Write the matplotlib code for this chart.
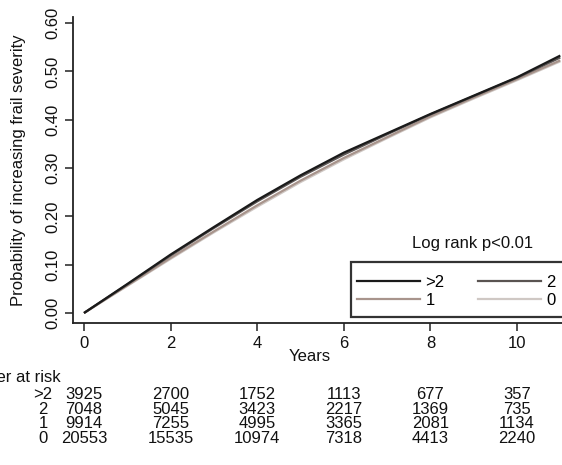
import matplotlib
matplotlib.use("Agg")
import matplotlib.pyplot as plt
from matplotlib.lines import Line2D
from matplotlib.patches import Rectangle

plt.rcParams['font.family'] = ['Liberation Sans', 'DejaVu Sans']

# ---- data ----
years = [0, 1, 2, 3, 4, 5, 6, 7, 8, 9, 10, 11]
cum_gt2 = [0, 0.060, 0.121, 0.178, 0.234, 0.285, 0.332, 0.372, 0.412, 0.450, 0.488, 0.533]
cum_2 = [0, 0.059, 0.119, 0.176, 0.231, 0.282, 0.328, 0.370, 0.411, 0.449, 0.487, 0.529]
cum_1 = [0, 0.057, 0.114, 0.169, 0.223, 0.274, 0.321, 0.364, 0.407, 0.446, 0.484, 0.523]
cum_0 = [0, 0.056, 0.112, 0.167, 0.220, 0.271, 0.318, 0.362, 0.405, 0.444, 0.482, 0.521]

groups = [">2", "2", "1", "0"]
risk_times = [0, 2, 4, 6, 8, 10]
risk_gt2 = [3925, 2700, 1752, 1113, 677, 357]
risk_2 = [7048, 5045, 3423, 2217, 1369, 735]
risk_1 = [9914, 7255, 4995, 3365, 2081, 1134]
risk_0 = [20553, 15535, 10974, 7318, 4413, 2240]

yticks = [0.0, 0.1, 0.2, 0.3, 0.4, 0.5, 0.6]
xticks = [0, 2, 4, 6, 8, 10]

# ---- figure ----
W, H = 562, 465
fig = plt.figure(figsize=(W / 100, H / 100), dpi=100)

def fx(px):
    return px / W

def fy(py):
    return 1 - py / H

FS = 12
ax_l, ax_r, ax_t, ax_b = 73, 600, 17, 323
ax = fig.add_axes([fx(ax_l), fy(ax_b), fx(ax_r - ax_l), (ax_b - ax_t) / H])

x0px, pxyr = 84, 43.3
y0px, pxunit = 313, 483
ax.set_xlim(-(x0px - ax_l) / pxyr, (ax_r - x0px) / pxyr)
ax.set_ylim(-(ax_b - y0px) / pxunit, (y0px - ax_t) / pxunit)

colors = {">2": "#1a1a1a", "2": "#5a5452", "1": "#a8948c", "0": "#cfc8c4"}
series = {">2": cum_gt2, "2": cum_2, "1": cum_1, "0": cum_0}
for g in ["0", "1", "2", ">2"]:
    ax.plot(years, series[g], color=colors[g], lw=1.6, solid_capstyle='butt')

for s in ["top", "right"]:
    ax.spines[s].set_visible(False)
for s in ["left", "bottom"]:
    ax.spines[s].set_color("#222222")
    ax.spines[s].set_linewidth(1.3)

ax.set_xticks(xticks)
ax.set_xticklabels([str(t) for t in xticks])
ax.set_yticks(yticks)
ax.set_yticklabels([f"{v:.2f}" for v in yticks], rotation=90, va='center')
ax.tick_params(axis='both', direction='out', length=6, width=1.1, color="#222222",
               labelsize=FS, labelcolor="#111111", pad=3)

fig.text(fx(19), fy(170), "Probability of increasing frail severity", rotation=90,
         ha='center', va='center', fontsize=FS, color="#111111")
fig.text(fx(310), fy(356), "Years", ha='center', va='center', fontsize=FS, color="#111111")

# legend box (extends past the right edge, as in the cropped original)
box = Rectangle((fx(351), fy(317)), fx(620 - 351), (317 - 262) / H,
                transform=fig.transFigure, facecolor='white', edgecolor='#333333',
                linewidth=1.6, zorder=5, clip_on=False)
ax.add_patch(box)

# legend entries (row-wise order: >2, 2 / 1, 0)
order = [">2", "1", "2", "0"]
handles = [Line2D([], [], color=colors[g], lw=1.6) for g in order]
leg = ax.legend(handles, order, ncol=2, loc='upper left',
                bbox_to_anchor=(fx(357), fy(275)), bbox_transform=fig.transFigure,
                borderaxespad=0, fontsize=FS, handlelength=3.8, handletextpad=0.3,
                columnspacing=2.0, frameon=False, borderpad=0,
                labelspacing=0.15)
leg.set_zorder(6)
fig.text(fx(473), fy(243), "Log rank p<0.01", ha='center', va='center', fontsize=FS,
         color="#111111")

# number at risk table
fig.text(fx(61), fy(378), "Number at risk", ha='right', va='center', fontsize=FS,
         color="#111111")
row_y = [394, 409, 423, 438]
tables = [risk_gt2, risk_2, risk_1, risk_0]
for g, vals, ry in zip(groups, tables, row_y):
    fig.text(fx(43), fy(ry), g, ha='center', va='center', fontsize=FS, color="#111111")
    for t, v in zip(risk_times, vals):
        fig.text(fx(x0px + t * pxyr), fy(ry), str(v), ha='center', va='center',
                 fontsize=FS, color="#111111")

fig.savefig("out.png", dpi=100)
